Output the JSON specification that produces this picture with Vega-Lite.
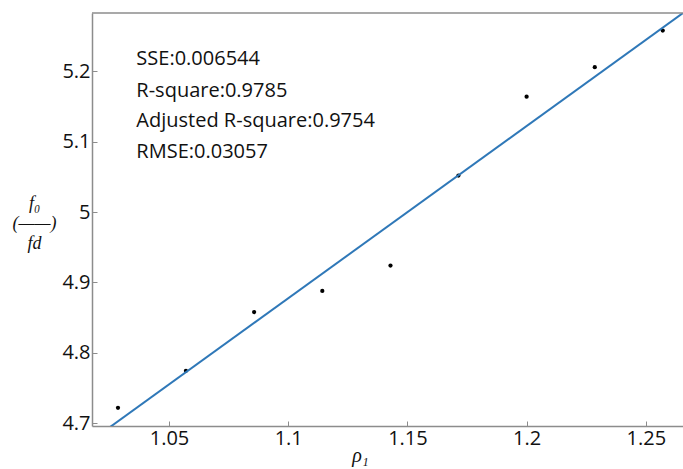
{
  "$schema": "https://vega.github.io/schema/vega-lite/v6.json",
  "width": 591,
  "height": 413,
  "autosize": {"type": "none"},
  "padding": {"left": 92, "top": 13, "right": 0, "bottom": 43},
  "background": "white",
  "config": {
    "view": {"stroke": null},
    "axis": {"grid": false, "domainColor": "#8c8c8c", "tickColor": "#8c8c8c", "domainWidth": 1.5, "tickWidth": 1, "labelFont": "Open Sans", "labelFontSize": 20, "labelColor": "#111111"}
  },
  "datasets": {
    "pts": [
      {"rho": 1.0286, "ratio": 4.7218},
      {"rho": 1.0571, "ratio": 4.7744},
      {"rho": 1.0857, "ratio": 4.858},
      {"rho": 1.1143, "ratio": 4.888},
      {"rho": 1.1429, "ratio": 4.924},
      {"rho": 1.1714, "ratio": 5.052},
      {"rho": 1.2, "ratio": 5.164},
      {"rho": 1.2286, "ratio": 5.206},
      {"rho": 1.2571, "ratio": 5.258}
    ],
    "fit": [
      {"rho": 1.0177, "ratio": 4.676},
      {"rho": 1.2656, "ratio": 5.283}
    ],
    "stats": [
      {"rho": 1.0363, "ratio": 5.218, "label": "SSE:0.006544"},
      {"rho": 1.0363, "ratio": 5.172, "label": "R-square:0.9785"},
      {"rho": 1.0363, "ratio": 5.129, "label": "Adjusted R-square:0.9754"},
      {"rho": 1.0363, "ratio": 5.085, "label": "RMSE:0.03057"}
    ]
  },
  "layer": [
    {
      "data": {"name": "pts"},
      "mark": {"type": "point", "filled": true, "color": "black", "size": 18, "opacity": 1},
      "encoding": {
        "x": {
          "field": "rho", "type": "quantitative",
          "scale": {"domain": [1.0177, 1.2656], "nice": false, "zero": false},
          "axis": {"values": [1.05, 1.1, 1.15, 1.2, 1.25], "format": "~g", "tickSize": -5, "labelPadding": 7,
                   "title": "ρ₁", "titleFont": "Liberation Serif", "titleFontStyle": "italic", "titleFontWeight": "normal", "titleFontSize": 20, "titleX": 268, "titleY": 29, "titleAlign": "center", "titleBaseline": "middle", "titleColor": "#111111"}
        },
        "y": {
          "field": "ratio", "type": "quantitative",
          "scale": {"domain": [4.696, 5.283], "nice": false, "zero": false},
          "axis": {"values": [4.7, 4.8, 4.9, 5, 5.1, 5.2], "format": "~g", "tickSize": -5, "labelPadding": 7,
                   "title": ["f₀", "(——)", "fd"], "titleAngle": 0, "titleFont": "Liberation Serif", "titleFontStyle": "italic", "titleFontWeight": "normal", "titleFontSize": 18, "titleLineHeight": 20, "titleColor": "#111111", "titleX": -58, "titleY": 181, "titleAlign": "center", "titleBaseline": "top"}
        }
      }
    },
    {
      "data": {"name": "fit"},
      "mark": {"type": "line", "color": "#2f78b8", "strokeWidth": 2, "clip": true},
      "encoding": {
        "x": {"field": "rho", "type": "quantitative"},
        "y": {"field": "ratio", "type": "quantitative"}
      }
    },
    {
      "data": {"name": "stats"},
      "mark": {"type": "text", "align": "left", "baseline": "middle", "font": "Open Sans", "fontSize": 20, "color": "#111111"},
      "encoding": {
        "x": {"field": "rho", "type": "quantitative"},
        "y": {"field": "ratio", "type": "quantitative"},
        "text": {"field": "label"}
      }
    },
    {
      "data": {"values": [{}]},
      "mark": {"type": "rule", "color": "#8c8c8c", "strokeWidth": 1.5},
      "encoding": {
        "x": {"datum": 1.0177, "type": "quantitative"},
        "x2": {"datum": 1.2656},
        "y": {"datum": 5.283, "type": "quantitative"}
      }
    }
  ]
}
